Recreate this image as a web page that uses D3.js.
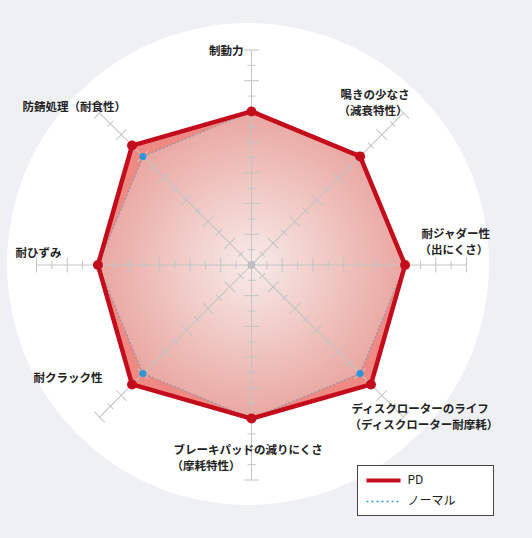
<!DOCTYPE html>
<html>
<head>
<meta charset="utf-8">
<script src="https://cdn.jsdelivr.net/npm/d3@7.9.0/dist/d3.min.js"></script>
<style>
  html, body { margin: 0; padding: 0; background: #eef0f4; }
  svg { display: block; }
  text { font-family: "Noto Sans CJK JP", "Noto Sans", sans-serif; fill: #222; }
</style>
</head>
<body>
<svg width="532" height="538"></svg>
<script>
// axes, clockwise from the top
const categories = [
  ['制動力'],
  ['鳴きの少なさ', '（減衰特性）'],
  ['耐ジャダー性', '（出にくさ）'],
  ['ディスクローターのライフ', '（ディスクローター耐摩耗）'],
  ['ブレーキパッドの減りにくさ', '（摩耗特性）'],
  ['耐クラック性'],
  ['耐ひずみ'],
  ['防錆処理（耐食性）']
];
const pdValues = [10, 10, 10, 11, 10, 11, 10, 11];
const normalValues = [10, 10, 10, 10, 10, 10, 10, 10];
const seriesNames = ['PD', 'ノーマル'];
const maxLevel = 14;

// label offsets from the end of each axis
const labelOffsets = [
  { dx: -8, dy: 2, anchor: 'end' },
  { dx: -63, dy: -17 },
  { dx: -45, dy: -30 },
  { dx: -52, dy: -7 },
  { dx: -78, dy: -29 },
  { dx: -66, dy: -38 },
  { dx: -21, dy: -11 },
  { dx: -77, dy: -5 }
];

const svg = d3.select('svg');
const cx = 251.5, cy = 265;
const r = d3.scaleLinear().domain([0, maxLevel]).range([0, 215]);
const angle = (i) => i * 2 * Math.PI / categories.length;
const pt = (i, v) => [cx + r(v) * Math.sin(angle(i)), cy - r(v) * Math.cos(angle(i))];

// background circle
svg.append('circle').attr('cx', 248).attr('cy', 264).attr('r', 241).attr('fill', '#fff');

// gradient for the inner area
const defs = svg.append('defs');
const grad = defs.append('radialGradient').attr('id', 'inner')
  .attr('gradientUnits', 'userSpaceOnUse')
  .attr('cx', cx).attr('cy', cy).attr('r', r(10.5));
grad.append('stop').attr('offset', '0%').attr('stop-color', '#f7ebe9');
grad.append('stop').attr('offset', '100%').attr('stop-color', '#e9a39d');

const line = d3.line().curve(d3.curveLinearClosed);

// PD area (outer band)
svg.append('path')
  .attr('d', line(pdValues.map((v, i) => pt(i, v))))
  .attr('fill', '#ef8983');

// normal area
svg.append('path')
  .attr('d', line(normalValues.map((v, i) => pt(i, v))))
  .attr('fill', 'url(#inner)');

// axes with ticks
categories.forEach((c, i) => {
  const g = svg.append('g')
    .attr('transform', `translate(${cx},${cy}) rotate(${angle(i) * 180 / Math.PI})`);
  g.append('line')
    .attr('x1', 0).attr('y1', 0).attr('x2', 0).attr('y2', -r(maxLevel))
    .attr('stroke', '#c4c4c4').attr('stroke-width', 1);
  g.selectAll('line.tick')
    .data(d3.range(1, maxLevel + 1))
    .join('line')
    .attr('class', 'tick')
    .attr('x1', (d) => (d % 2 === 0 ? -7.5 : -4))
    .attr('x2', (d) => (d % 2 === 0 ? 7.5 : 4))
    .attr('y1', (d) => -r(d)).attr('y2', (d) => -r(d))
    .attr('stroke', '#c4c4c4').attr('stroke-width', 1);
});

svg.append('circle').attr('cx', cx).attr('cy', cy).attr('r', 4).attr('fill', '#c0c0c0');

// normal outline
svg.append('path')
  .attr('d', line(normalValues.map((v, i) => pt(i, v))))
  .attr('fill', 'none')
  .attr('stroke', '#9a9aa6').attr('stroke-width', 1.5)
  .attr('stroke-dasharray', '2,2');

svg.selectAll('circle.normal')
  .data(normalValues)
  .join('circle')
  .attr('class', 'normal')
  .attr('cx', (d, i) => pt(i, d)[0])
  .attr('cy', (d, i) => pt(i, d)[1])
  .attr('r', 3.5)
  .attr('fill', '#2b95d6');

// PD outline
svg.append('path')
  .attr('d', line(pdValues.map((v, i) => pt(i, v))))
  .attr('fill', 'none')
  .attr('stroke', '#c40d1c').attr('stroke-width', 4.5)
  .attr('stroke-linejoin', 'round');

svg.selectAll('circle.pd')
  .data(pdValues)
  .join('circle')
  .attr('class', 'pd')
  .attr('cx', (d, i) => pt(i, d)[0])
  .attr('cy', (d, i) => pt(i, d)[1])
  .attr('r', 5)
  .attr('fill', '#c40d1c');

// labels, one text per line
categories.forEach((lines, i) => {
  const [ex, ey] = pt(i, maxLevel);
  const o = labelOffsets[i];
  lines.forEach((s, k) => {
    svg.append('text')
      .attr('x', ex + o.dx - (k > 0 ? 2 : 0))
      .attr('y', ey + o.dy + k * 15.5)
      .attr('text-anchor', o.anchor || 'start')
      .attr('font-size', 11.5)
      .attr('font-weight', 'bold')
      .attr('dominant-baseline', 'middle')
      .text(s);
  });
});

// legend
const lg = svg.append('g').attr('transform', 'translate(357.5,465.5)');
lg.append('rect').attr('width', 136).attr('height', 50)
  .attr('fill', '#fff').attr('stroke', '#444').attr('stroke-width', 1);
lg.append('line').attr('x1', 9).attr('x2', 43).attr('y1', 15).attr('y2', 15)
  .attr('stroke', '#c40d1c').attr('stroke-width', 4);
lg.append('line').attr('x1', 9).attr('x2', 43).attr('y1', 36).attr('y2', 36)
  .attr('stroke', '#2b95d6').attr('stroke-width', 1.5).attr('stroke-dasharray', '2,3');
seriesNames.forEach((s, k) => {
  lg.append('text').attr('x', 50).attr('y', k === 0 ? 15.5 : 36.5)
    .attr('font-size', 12).attr('dominant-baseline', 'middle').text(s);
});
</script>
</body>
</html>
